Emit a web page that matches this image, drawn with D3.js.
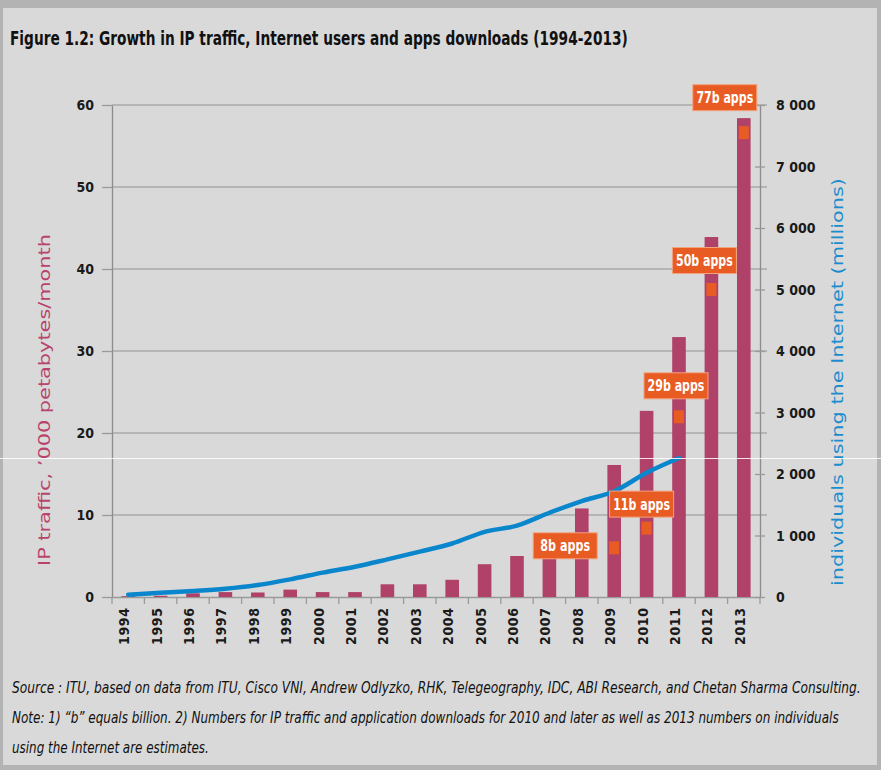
<!DOCTYPE html>
<html>
<head>
<meta charset="utf-8">
<script src="https://cdn.jsdelivr.net/npm/d3@7"></script>
<style>
  body { margin: 0; background: #b3b3b3; }
  svg { display: block; }
  .cond { font-family: "Liberation Sans Narrow", "DejaVu Sans Condensed", "Arial Narrow", sans-serif; }
  .tick-lbl { font-family: "Liberation Sans Narrow", "DejaVu Sans Condensed", sans-serif; font-weight: bold; font-size: 14px; fill: #1a1a1a; }
</style>
</head>
<body>
<div id="chart"></div>
<script>
// values
const years = d3.range(1994, 2014).map(String);
const ipTraffic = [0.1, 0.15, 0.45, 0.6, 0.55, 0.9, 0.6, 0.6, 1.55, 1.55, 2.1, 4.0, 5.0, 6.6, 10.8, 16.1, 22.7, 31.7, 43.9, 58.4];
const userYears = years.slice(0, 18); // 1994-2011
const users = [37, 70, 98, 135, 195, 287, 396, 493, 612, 737, 870, 1060, 1160, 1370, 1560, 1720, 2020, 2260];
const appYears = ["2009", "2010", "2011", "2012", "2013"];
const appPos = [800, 1120, 2930, 5000, 7550];
const appLabels = ["8b apps", "11b apps", "29b apps", "50b apps", "77b apps"];
const leftTicks = [0, 10, 20, 30, 40, 50, 60];
const rightTicks = [0, 1000, 2000, 3000, 4000, 5000, 6000, 7000, 8000];

const width = 881, height = 770;
const plot = {left: 112, right: 760, top: 105, bottom: 597};

const svg = d3.select("#chart").append("svg")
  .attr("width", width)
  .attr("height", height);

// frame
svg.append("rect").attr("width", width).attr("height", height).attr("fill", "#b3b3b3");
svg.append("rect").attr("x", 3).attr("y", 8).attr("width", 874).attr("height", 757).attr("fill", "#d9d9d9");

let x = d3.scaleBand().domain(years).range([plot.left, plot.right]).padding(0);
let yL = d3.scaleLinear().domain([0, 60]).range([plot.bottom, plot.top]);
let yR = d3.scaleLinear().domain([0, 8000]).range([plot.bottom, plot.top]);
let barW = x.bandwidth() * 0.42;

// squeeze a text horizontally to a given width
function fitWidth(sel, w) {
  sel.each(function() {
    let t = d3.select(this);
    let nat = this.getComputedTextLength();
    let k = (typeof w === "function" ? w(t.datum()) : w) / nat;
    let x0 = +t.attr("x"), y0 = +t.attr("y");
    t.attr("x", 0).attr("y", 0)
     .attr("transform", `translate(${x0},${y0}) scale(${k},1)`);
  });
}

// title
svg.append("text")
  .attr("class", "cond")
  .attr("x", 10).attr("y", 45)
  .attr("font-size", 19).attr("font-weight", "bold").attr("fill", "#111")
  .text("Figure 1.2: Growth in IP traffic, Internet users and apps downloads (1994-2013)")
  .call(fitWidth, 618);

// gridlines
svg.append("g").selectAll("line")
  .data(leftTicks.slice(1))
  .enter().append("line")
  .attr("x1", plot.left).attr("x2", plot.right + 7)
  .attr("y1", d => yL(d)).attr("y2", d => yL(d))
  .attr("stroke", "#a8a8a8").attr("stroke-width", 1.4);

// left axis
let yAxisL = d3.axisLeft(yL).tickValues(leftTicks).tickSize(10).tickSizeOuter(0).tickPadding(8);
let gL = svg.append("g").attr("transform", `translate(${plot.left},0)`).call(yAxisL);
gL.select(".domain").attr("stroke", "#8c8c8c").attr("stroke-width", 1.3);
gL.selectAll(".tick line").attr("stroke", "#9a9a9a").attr("stroke-width", 1.3);
gL.selectAll(".tick text").attr("class", "tick-lbl").attr("dy", "0.35em");

// right axis
let yAxisR = d3.axisRight(yR).tickValues(rightTicks).tickSize(5).tickSizeOuter(0).tickPadding(11)
  .tickFormat(d => d3.format(",")(d).replace(",", " "));
let gR = svg.append("g").attr("transform", `translate(${plot.right},0)`).call(yAxisR);
gR.select(".domain").attr("stroke", "#8c8c8c").attr("stroke-width", 1.3);
gR.selectAll(".tick line").attr("x1", -5).attr("stroke", "#9a9a9a").attr("stroke-width", 1.3);
gR.selectAll(".tick text").attr("class", "tick-lbl").attr("dy", "0.35em");

// x axis
let xAxis = d3.axisBottom(x).tickSize(0).tickSizeOuter(0);
let gX = svg.append("g").attr("transform", `translate(0,${plot.bottom})`).call(xAxis);
gX.select(".domain").attr("stroke", "#9a9a9a").attr("stroke-width", 1.3);
gX.selectAll(".tick text")
  .attr("class", "tick-lbl")
  .attr("font-size", 13)
  .attr("text-anchor", "end")
  .attr("transform", "translate(-4,11) rotate(-90)")
  .attr("x", 0).attr("y", 0).attr("dy", "0.35em")
  .attr("textLength", 37).attr("lengthAdjust", "spacing");
svg.append("g").selectAll("line")
  .data(years.concat(["end"]))
  .enter().append("line")
  .attr("x1", (d, i) => plot.left + i * x.bandwidth())
  .attr("x2", (d, i) => plot.left + i * x.bandwidth())
  .attr("y1", plot.bottom).attr("y2", plot.bottom + 7)
  .attr("stroke", "#9a9a9a").attr("stroke-width", 1.3);

// bars
svg.append("g").selectAll("rect")
  .data(years.map((y, i) => ({year: y, v: ipTraffic[i]})))
  .enter().append("rect")
  .attr("x", d => x(d.year) + (x.bandwidth() - barW) / 2)
  .attr("y", d => yL(d.v))
  .attr("width", barW)
  .attr("height", d => plot.bottom - yL(d.v))
  .attr("fill", "#b0426a");

// users line
let line = d3.line()
  .x(d => x(d.year) + x.bandwidth() / 2)
  .y(d => yR(d.v))
  .curve(d3.curveMonotoneX);
svg.append("path")
  .datum(userYears.map((y, i) => ({year: y, v: users[i]})))
  .attr("d", line)
  .attr("fill", "none")
  .attr("stroke", "#0a87cc")
  .attr("stroke-width", 4.5)
  .attr("stroke-linecap", "round");

// app markers and labels
let apps = appYears.map((y, i) => ({year: y, v: appPos[i], label: appLabels[i]}));
let labelOffset = {"2009": [-49, -2], "2010": [-5, -24], "2011": [-3, -31], "2012": [-7, -29], "2013": [-19, -35]};

svg.append("g").selectAll("rect")
  .data(apps)
  .enter().append("rect")
  .attr("x", d => x(d.year) + x.bandwidth() / 2 - 5)
  .attr("y", d => yR(d.v) - 6.5)
  .attr("width", 10).attr("height", 13)
  .attr("fill", "#e85c24");

let lab = svg.append("g").selectAll("g")
  .data(apps)
  .enter().append("g")
  .attr("transform", d => {
    let o = labelOffset[d.year];
    return `translate(${x(d.year) + x.bandwidth() / 2 + o[0]},${yR(d.v) + o[1]})`;
  });
lab.append("rect")
  .attr("x", -32).attr("y", -13)
  .attr("width", 64).attr("height", 26)
  .attr("fill", "#e85c24")
  .attr("stroke", "#f2a27e").attr("stroke-width", 1);
lab.append("text")
  .attr("class", "cond")
  .attr("text-anchor", "middle")
  .attr("dy", "0.36em")
  .attr("font-size", 15).attr("font-weight", "bold").attr("fill", "#fff")
  .attr("textLength", d => d.label.length * 7.1).attr("lengthAdjust", "spacingAndGlyphs")
  .text(d => d.label);

// axis titles
svg.append("text")
  .attr("transform", "translate(50,400) rotate(-90)")
  .attr("text-anchor", "middle")
  .attr("font-family", "DejaVu Sans, Verdana, sans-serif")
  .attr("font-size", 15).attr("fill", "#b8436c")
  .attr("textLength", 332).attr("lengthAdjust", "spacingAndGlyphs")
  .text("IP traffic, \u2019000 petabytes/month");

svg.append("text")
  .attr("transform", "translate(843,382) rotate(-90)")
  .attr("text-anchor", "middle")
  .attr("font-family", "DejaVu Sans, Verdana, sans-serif")
  .attr("font-size", 15).attr("fill", "#1b8ccc")
  .attr("textLength", 408).attr("lengthAdjust", "spacingAndGlyphs")
  .text("individuals using the Internet (millions)");

// notes
let notes = [
  ["Source : ITU, based on data from ITU, Cisco VNI, Andrew Odlyzko, RHK, Telegeography, IDC, ABI Research, and Chetan Sharma Consulting.", 850],
  ["Note: 1) \u201Cb\u201D equals billion. 2) Numbers for IP traffic and application downloads for 2010 and later as well as 2013 numbers on individuals", 828],
  ["using the Internet are estimates.", 197]
];
svg.append("g").selectAll("text")
  .data(notes)
  .enter().append("text")
  .attr("class", "cond")
  .attr("x", 12)
  .attr("y", (d, i) => 693 + i * 30)
  .attr("font-size", 15).attr("font-style", "italic").attr("fill", "#111")
  .text(d => d[0])
  .call(fitWidth, d => d[1]);

// faint scan line present in the source image
svg.append("line")
  .attr("x1", 0).attr("x2", width).attr("y1", 458.5).attr("y2", 458.5)
  .attr("stroke", "#ffffff").attr("stroke-opacity", 0.85).attr("stroke-width", 1);
</script>
</body>
</html>
